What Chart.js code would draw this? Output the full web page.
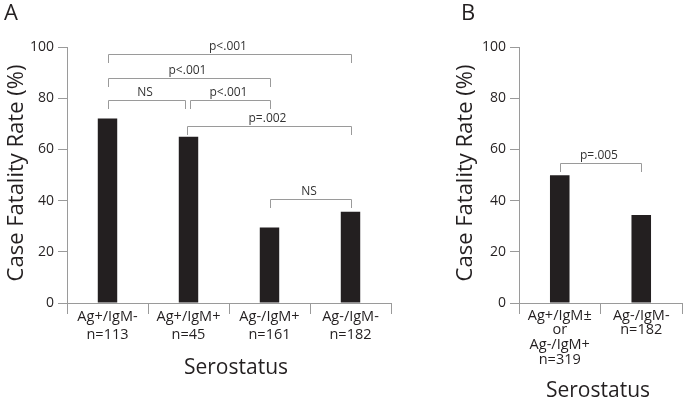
<!DOCTYPE html>
<html>
<head>
<meta charset="utf-8">
<script src="https://cdn.jsdelivr.net/npm/chart.js@4.4.1/dist/chart.umd.min.js"></script>
<style>
    body { margin: 0; background: #fff; width: 685px; height: 409px; position: relative; overflow: hidden; }
    #boxA { position: absolute; left: 0; top: 0; width: 455px; height: 409px; }
    #boxB { position: absolute; left: 455px; top: 0; width: 230px; height: 409px; }
</style>
</head>
<body>
<div id="boxA"><canvas id="chartA"></canvas></div>
<div id="boxB"><canvas id="chartB"></canvas></div>
<script>
// Panel A data
const categoriesA = [['Ag+/IgM-', 'n=113'], ['Ag+/IgM+', 'n=45'], ['Ag-/IgM+', 'n=161'], ['Ag-/IgM-', 'n=182']];
const ratesA = [72.1, 64.9, 29.5, 35.6];
// [from category, to category, bracket height (%), label]
const bracketsA = [
    [0, 3, 97.3, 'p<.001'],
    [0, 2, 87.7, 'p<.001'],
    [0, 0.96, 79.4, 'NS'],
    [1.02, 2, 79.4, 'p<.001'],
    [0.98, 3, 69.2, 'p=.002'],
    [2, 3, 40.6, 'NS']
];

// Panel B data
const categoriesB = [['Ag+/IgM\u00b1', 'or', 'Ag-/IgM+', 'n=319'], ['Ag-/IgM-', 'n=182']];
const ratesB = [49.9, 34.4];
const bracketsB = [
    [0, 1, 54.8, 'p=.005']
];

const yTicks = [0, 20, 40, 60, 80, 100];

const FONT = '"Open Sans", sans-serif';
const INK = '#231f20';
const AXIS = '#9a9a9a';

// Draws significance brackets, panel letter and axis titles
const annotate = {
    id: 'annotate',
    afterDatasetsDraw(chart, args, opts) {
        const ctx = chart.ctx;
        const x = chart.scales.x;
        const y = chart.scales.y;
        ctx.save();
        ctx.strokeStyle = AXIS;
        ctx.lineWidth = 1;
        ctx.fillStyle = '#333';
        ctx.font = '12px ' + FONT;
        ctx.textAlign = 'center';
        ctx.textBaseline = 'middle';
        opts.brackets.forEach(function (b) {
            const x1 = Math.round(x.getPixelForValue(b[0])) + 0.5;
            const x2 = Math.round(x.getPixelForValue(b[1])) + 0.5;
            const yy = Math.round(y.getPixelForValue(b[2])) + 0.5;
            ctx.beginPath();
            ctx.moveTo(x1, yy + 8.5);
            ctx.lineTo(x1, yy);
            ctx.lineTo(x2, yy);
            ctx.lineTo(x2, yy + 8.5);
            ctx.stroke();
            ctx.fillText(b[3], (x1 + x2) / 2 - 2, yy - 8);
        });

        ctx.fillStyle = INK;
        ctx.font = '22px ' + FONT;
        ctx.textAlign = 'left';
        ctx.fillText(opts.letter, opts.letterX, 14);

        ctx.textAlign = 'center';
        ctx.font = '21px ' + FONT;
        ctx.fillText('Serostatus', opts.xTitle[0], opts.xTitle[1]);

        ctx.save();
        ctx.translate(opts.yTitleX, 173);
        ctx.rotate(-Math.PI / 2);
        ctx.font = '22px ' + FONT;
        ctx.fillText('Case Fatality Rate (%)', 0, 0);
        ctx.restore();
        ctx.restore();
    }
};

function makeChart(id, labels, values, yWidth, rightPad, lineHeight, extra) {
    const ctx = document.getElementById(id).getContext('2d');
    return new Chart(ctx, {
        type: 'bar',
        data: {
            labels: labels,
            datasets: [{
                data: values,
                backgroundColor: INK,
                barPercentage: 0.24,
                categoryPercentage: 1
            }]
        },
        options: {
            responsive: true,
            maintainAspectRatio: false,
            animation: false,
            layout: { padding: { top: 47, right: rightPad, bottom: 0, left: 0 } },
            plugins: {
                legend: { display: false },
                tooltip: { enabled: false },
                annotate: extra
            },
            scales: {
                x: {
                    afterFit: function (scale) { scale.height = 106; },
                    grid: {
                        offset: true,
                        drawOnChartArea: false,
                        tickLength: 11,
                        color: AXIS
                    },
                    border: { color: AXIS },
                    ticks: {
                        color: INK,
                        font: { family: FONT, size: 14.5, lineHeight: lineHeight },
                        padding: -6,
                        maxRotation: 0,
                        autoSkip: false
                    }
                },
                y: {
                    min: 0,
                    max: 100,
                    afterFit: function (scale) { scale.width = yWidth; },
                    afterBuildTicks: function (scale) {
                        scale.ticks = yTicks.map(function (v) { return { value: v }; });
                    },
                    grid: {
                        drawOnChartArea: false,
                        tickLength: 9,
                        color: AXIS
                    },
                    border: { color: AXIS },
                    ticks: {
                        color: INK,
                        font: { family: FONT, size: 14 },
                        padding: 4
                    }
                }
            }
        },
        plugins: [annotate]
    });
}

makeChart('chartA', categoriesA, ratesA, 67, 64, 1.24, {
    brackets: bracketsA, letter: 'A', letterX: 4, xTitle: [236, 368], yTitleX: 17
});
makeChart('chartB', categoriesB, ratesB, 64, 3, 1.02, {
    brackets: bracketsB, letter: 'B', letterX: 6, xTitle: [143, 391], yTitleX: 11
});
</script>
</body>
</html>
